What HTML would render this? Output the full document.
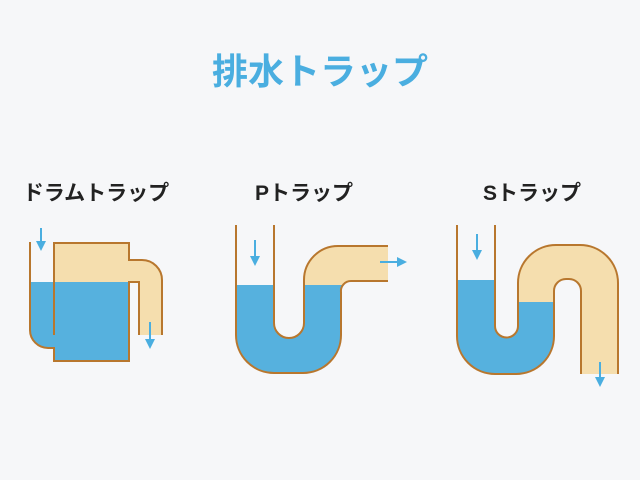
<!DOCTYPE html>
<html><head><meta charset="utf-8"><style>
html,body{margin:0;padding:0;background:#f6f7f9;}
svg{display:block}
text{font-family:"Liberation Sans","Noto Sans CJK JP",sans-serif;font-weight:bold}
</style></head><body>
<svg width="640" height="480" viewBox="0 0 640 480" xmlns="http://www.w3.org/2000/svg">
<defs>
<marker id="ah" markerWidth="10" markerHeight="10" refX="5" refY="5" orient="auto" markerUnits="userSpaceOnUse"><path d="M0,0 L10,5 L0,10 Z" fill="#4aaee0"/></marker>
<clipPath id="pBeige"><rect x="304" y="0" width="200" height="285"/></clipPath>
<clipPath id="pBlue"><rect x="0" y="285" width="640" height="200"/></clipPath>
<clipPath id="sBeige"><rect x="518" y="0" width="200" height="480"/></clipPath>
<clipPath id="sBlue"><rect x="0" y="280" width="518" height="200"/><rect x="518" y="302" width="36" height="200"/></clipPath>
</defs>
<rect width="640" height="480" fill="#f6f7f9"/>
<text x="320" y="84" text-anchor="middle" font-size="36" fill="#4aaee0">排水トラップ</text>
<text x="96" y="200" text-anchor="middle" font-size="21" fill="#222">ドラムトラップ</text>
<text x="304" y="200" text-anchor="middle" font-size="21" fill="#222">Pトラップ</text>
<text x="532" y="200" text-anchor="middle" font-size="21" fill="#222">Sトラップ</text>

<!-- Drum trap -->
<rect x="54" y="243" width="75" height="39" fill="#f5deae"/>
<path d="M129,260 H142 A20 20 0 0 1 162,280 V335 H139 V282 H129 Z" fill="#f5deae"/>
<path d="M30,282 V330 A18 18 0 0 0 48,348 H54 V361 H129 V282 Z" fill="#56b1de"/>
<g fill="none" stroke="#b8772e" stroke-width="2">
<path d="M30,242 V330 A18 18 0 0 0 48,348 H54 V361 H129 V282 H139 V335"/>
<path d="M162,335 V280 A20 20 0 0 0 142,260 H129 V243 H54 V335"/>
</g>
<line x1="41" y1="228" x2="41" y2="246" stroke="#4aaee0" stroke-width="2" marker-end="url(#ah)"/>
<line x1="150" y1="322" x2="150" y2="344" stroke="#4aaee0" stroke-width="2" marker-end="url(#ah)"/>

<!-- P trap -->
<path id="pshape" d="M236,225 V335 A38 38 0 0 0 274,373 H303 A38 38 0 0 0 341,335 V292 A10 10 0 0 1 351,281 H388 V246 H338 A34 34 0 0 0 304,280 V323 A15 15 0 0 1 274,323 V225 Z" fill="#f5deae" clip-path="url(#pBeige)"/>
<path d="M236,225 V335 A38 38 0 0 0 274,373 H303 A38 38 0 0 0 341,335 V292 A10 10 0 0 1 351,281 H388 V246 H338 A34 34 0 0 0 304,280 V323 A15 15 0 0 1 274,323 V225 Z" fill="#56b1de" clip-path="url(#pBlue)"/>
<g fill="none" stroke="#b8772e" stroke-width="2">
<path d="M236,225 V335 A38 38 0 0 0 274,373 H303 A38 38 0 0 0 341,335 V292 A10 10 0 0 1 351,281 H388"/>
<path d="M274,225 V323 A15 15 0 0 0 304,323 V280 A34 34 0 0 1 338,246 H388"/>
</g>
<line x1="255" y1="240" x2="255" y2="261" stroke="#4aaee0" stroke-width="2" marker-end="url(#ah)"/>
<line x1="380" y1="262" x2="402" y2="262" stroke="#4aaee0" stroke-width="2" marker-end="url(#ah)"/>

<!-- S trap -->
<path d="M457,225 V336 A38 38 0 0 0 495,374 H516 A38 38 0 0 0 554,336 V291 A12 12 0 0 1 566,279 H569 A12 12 0 0 1 581,291 V374 H618 V283 A38 38 0 0 0 580,245 H556 A38 38 0 0 0 518,283 V326 A11.5 11.5 0 0 1 495,326 V225 Z" fill="#f5deae" clip-path="url(#sBeige)"/>
<path d="M457,225 V336 A38 38 0 0 0 495,374 H516 A38 38 0 0 0 554,336 V291 A12 12 0 0 1 566,279 H569 A12 12 0 0 1 581,291 V374 H618 V283 A38 38 0 0 0 580,245 H556 A38 38 0 0 0 518,283 V326 A11.5 11.5 0 0 1 495,326 V225 Z" fill="#56b1de" clip-path="url(#sBlue)"/>
<g fill="none" stroke="#b8772e" stroke-width="2">
<path d="M457,225 V336 A38 38 0 0 0 495,374 H516 A38 38 0 0 0 554,336 V291 A12 12 0 0 1 566,279 H569 A12 12 0 0 1 581,291 V374"/>
<path d="M618,374 V283 A38 38 0 0 0 580,245 H556 A38 38 0 0 0 518,283 V326 A11.5 11.5 0 0 1 495,326 V225"/>
</g>
<line x1="477" y1="234" x2="477" y2="255" stroke="#4aaee0" stroke-width="2" marker-end="url(#ah)"/>
<line x1="600" y1="362" x2="600" y2="382" stroke="#4aaee0" stroke-width="2" marker-end="url(#ah)"/>
</svg>
</body></html>
